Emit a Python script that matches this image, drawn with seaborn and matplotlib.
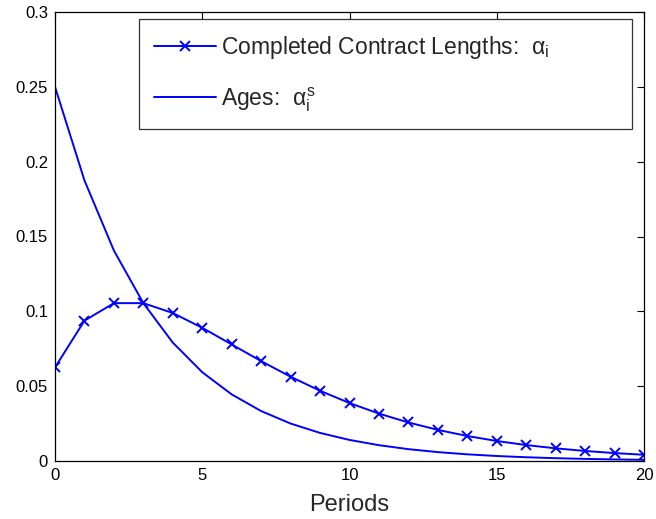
import matplotlib
matplotlib.use("Agg")
import matplotlib.pyplot as plt
import seaborn as sns
import pandas as pd

periods = list(range(21))
completed = [0.0625, 0.09375, 0.10547, 0.10547, 0.09888, 0.08899, 0.07787, 0.06674,
             0.05631, 0.04693, 0.03872, 0.03168, 0.02574, 0.02079, 0.01670, 0.01336,
             0.01065, 0.00846, 0.00670, 0.00529, 0.00416]
ages = [0.25, 0.1875, 0.140625, 0.105469, 0.079102, 0.059326, 0.044495, 0.033371,
        0.025028, 0.018771, 0.014078, 0.010559, 0.007919, 0.005939, 0.004454,
        0.003341, 0.002506, 0.001879, 0.001409, 0.001057, 0.000793]
xticks = [0, 5, 10, 15, 20]
yticks = [0, 0.05, 0.1, 0.15, 0.2, 0.25, 0.3]
yticklabels = ["0", "0.05", "0.1", "0.15", "0.2", "0.25", "0.3"]

sns.set_style("white")
plt.rcParams['font.family'] = ['Liberation Sans', 'DejaVu Sans']
plt.rcParams['mathtext.fontset'] = 'custom'
plt.rcParams['mathtext.rm'] = 'Liberation Sans'
plt.rcParams['mathtext.it'] = 'Liberation Sans'

df = pd.DataFrame({"Periods": periods, "completed": completed, "ages": ages})

fig = plt.figure(figsize=(6.56, 5.19), dpi=100)
ax = fig.add_axes([55/656, 1-461/519, (644-55)/656, (461-12)/519])

sns.lineplot(data=df, x="Periods", y="completed", ax=ax, color=(0, 0, 1), lw=1.4,
             marker="x", markersize=6.5, markeredgewidth=1.4, markeredgecolor=(0, 0, 1),
             label=r"Completed Contract Lengths:  $\alpha_{\mathrm{i}}$")
sns.lineplot(data=df, x="Periods", y="ages", ax=ax, color=(0, 0, 1), lw=1.4,
             label=r"Ages:  $\alpha_{\mathrm{i}}^{\mathrm{s}}$")

ax.set_xlim(0, 20)
ax.set_ylim(0, 0.3)
ax.set_xticks(xticks)
ax.set_xticklabels([str(t) for t in xticks])
ax.set_yticks(yticks)
ax.set_yticklabels(yticklabels)
ax.tick_params(direction="in", top=True, right=True, length=5, width=0.8,
               labelsize=12, colors="black", pad=5)
for s in ax.spines.values():
    s.set_visible(True)
    s.set_color("black")
    s.set_linewidth(0.9)
ax.set_xlabel("Periods", fontsize=17, labelpad=8)
ax.set_ylabel("")

leg = ax.legend(loc="upper left", bbox_to_anchor=(0.1426, 0.742, 0.98-0.1426, 0.984-0.742),
                mode="expand", fontsize=16.5, frameon=True, fancybox=False,
                edgecolor="black", handlelength=2.7, borderaxespad=0, labelspacing=1.05,
                handletextpad=0.25, borderpad=0.65)
leg.get_frame().set_linewidth(0.9)

fig.savefig("out.png", dpi=100)
